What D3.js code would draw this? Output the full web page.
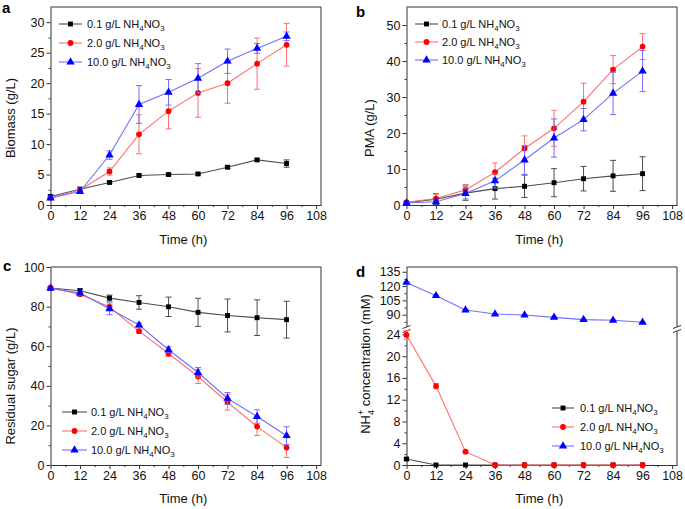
<!DOCTYPE html>
<html>
<head>
<meta charset="utf-8">
<script src="https://cdn.jsdelivr.net/npm/d3@7/dist/d3.min.js"></script>
<style>
  html, body { margin: 0; padding: 0; background: #fff; }
  svg { display: block; font-family: "Liberation Sans", Arial, sans-serif; }
</style>
</head>
<body>
<svg id="chart" width="685" height="509"></svg>
<script>
// ---------- data ----------
const hours = [0, 12, 24, 36, 48, 60, 72, 84, 96];
const xTicks = [0, 12, 24, 36, 48, 60, 72, 84, 96, 108];
const seriesLabels = ["0.1", "2.0", "10.0"];

// (a) Biomass (g/L)
const biomass01 = [1.4, 2.6, 3.7, 4.85, 5.0, 5.1, 6.2, 7.4, 6.8];
const biomass01Err = [0.3, 0.3, 0.2, 0.2, 0.2, 0.2, 0.2, 0.2, 0.6];
const biomass20 = [1.2, 2.45, 5.5, 11.6, 15.4, 18.4, 20.0, 23.2, 26.3];
const biomass20Err = [0.2, 0.3, 0.6, 3.2, 2.9, 4.0, 3.3, 4.2, 3.5];
const biomass10 = [1.15, 2.2, 8.2, 16.5, 18.5, 20.8, 23.6, 25.7, 27.7];
const biomass10Err = [0.2, 0.3, 0.7, 3.1, 2.1, 2.4, 2.0, 0.8, 0.7];
const biomassTicks = [0, 5, 10, 15, 20, 25, 30];

// (b) PMA (g/L)
const pma01 = [0.65, 1.6, 3.3, 4.55, 5.2, 6.2, 7.3, 8.1, 8.7];
const pma01Err = [0.3, 1.5, 2.0, 2.9, 3.1, 3.9, 3.4, 4.3, 4.7];
const pma20 = [0.75, 1.8, 4.2, 9.1, 15.7, 21.3, 28.7, 37.6, 44.0];
const pma20Err = [0.3, 1.2, 1.5, 2.6, 3.5, 5.0, 5.1, 3.9, 3.6];
const pma10 = [0.55, 0.9, 3.2, 6.7, 12.5, 18.6, 23.7, 31.0, 37.2];
const pma10Err = [0.2, 0.5, 1.5, 2.0, 4.0, 5.3, 3.1, 5.9, 5.7];
const pmaTicks = [0, 10, 20, 30, 40, 50];

// (c) Residual sugar (g/L)
const sugar01 = [89.4, 88.0, 84.3, 82.1, 79.9, 77.1, 75.5, 74.4, 73.4];
const sugar01Err = [0.5, 1.0, 1.5, 3.4, 4.9, 7.1, 8.3, 9.0, 9.3];
const sugar20 = [89.4, 86.3, 79.8, 67.6, 56.3, 44.7, 31.7, 19.4, 8.8];
const sugar20Err = [0.5, 1.0, 1.0, 1.0, 1.5, 3.5, 4.0, 4.5, 5.0];
const sugar10 = [89.2, 86.8, 78.9, 70.7, 58.2, 46.7, 33.6, 24.5, 14.8];
const sugar10Err = [0.5, 1.0, 3.0, 1.0, 1.5, 2.5, 3.0, 3.4, 4.5];
const sugarTicks = [0, 20, 40, 60, 80, 100];

// (d) NH4+ concentration (mM)
const nh01 = [1.1, 0, 0, 0, 0, 0, 0, 0, 0];
const nh01Err = [0.2, 0, 0, 0, 0, 0, 0, 0, 0];
const nh20 = [23.9, 14.5, 2.45, 0, 0, 0, 0, 0, 0];
const nh20Err = [0.8, 0.5, 0.2, 0, 0, 0, 0, 0, 0];
const nh10 = [123.8, 109.9, 94.9, 90.7, 89.7, 87.2, 84.8, 84.1, 82.0];
const nh10Err = [0.5, 0.5, 0.5, 0.5, 0.5, 0.5, 0.5, 0.5, 0.5];
const nhLowTicks = [0, 4, 8, 12, 16, 20, 24];
const nhHighTicks = [90, 105, 120, 135];

// ---------- styles ----------
const markColors = ["#000000", "#ff0000", "#0000ff"];
const lineColors = ["#4d4d4d", "#ff7070", "#7070ff"];
const markerShapes = ["square", "circle", "triangle"];
const axisColor = "#333";

const svg = d3.select("#chart");

function symbolPath(shape) {
  if (shape === "square") return d3.symbol(d3.symbolSquare, 24)();
  if (shape === "circle") return d3.symbol(d3.symbolCircle, 26)();
  return d3.symbol(d3.symbolTriangle, 30)();
}

function addLegendLabel(sel, conc) {
  sel.append("tspan").text(conc + " g/L NH");
  sel.append("tspan").attr("font-size", "8px").attr("dy", 3).text("4");
  sel.append("tspan").attr("dy", -3).text("NO");
  sel.append("tspan").attr("font-size", "8px").attr("dy", 3).text("3");
}

function drawPanel(cfg) {
  const g = svg.append("g");
  const x = d3.scaleLinear().domain([0, 110]).range([cfg.left, cfg.right]);
  const yFor = cfg.yFor;

  // frame top & right
  g.append("line").attr("x1", cfg.left).attr("x2", cfg.right).attr("y1", cfg.top).attr("y2", cfg.top)
    .attr("stroke", axisColor).attr("stroke-width", 1);
  g.append("line").attr("x1", cfg.right).attr("x2", cfg.right).attr("y1", cfg.top).attr("y2", cfg.bottom)
    .attr("stroke", axisColor).attr("stroke-width", 1);

  // x axis
  const xAxis = g.append("g").attr("transform", `translate(0,${cfg.bottom})`)
    .call(d3.axisBottom(x).tickValues(xTicks).tickSize(4).tickSizeOuter(0).tickPadding(2));
  g.append("g").attr("transform", `translate(0,${cfg.bottom})`)
    .call(d3.axisBottom(x).tickValues(d3.range(6, 109, 12)).tickSize(2).tickFormat("").tickSizeOuter(0))
    .select(".domain").remove();
  xAxis.selectAll("text").attr("font-size", "12.5px").attr("fill", "#111").attr("font-family", "Liberation Sans, Arial, sans-serif");

  // y axis(es)
  cfg.yAxes.forEach(ya => {
    const ag = g.append("g").attr("transform", `translate(${cfg.left},0)`)
      .call(d3.axisLeft(ya.scale).tickValues(ya.ticks).tickSize(4).tickSizeOuter(0).tickPadding(2));
    ag.selectAll("text").attr("font-size", "12.5px").attr("fill", "#111").attr("font-family", "Liberation Sans, Arial, sans-serif");
    g.append("g").attr("transform", `translate(${cfg.left},0)`)
      .call(d3.axisLeft(ya.scale).tickValues(ya.minor).tickSize(2).tickFormat("").tickSizeOuter(0))
      .select(".domain").remove();
  });
  g.selectAll(".domain, .tick line").attr("stroke", axisColor);

  // break marks
  if (cfg.breakY !== undefined) {
    [cfg.left, cfg.right].forEach(bx => {
      g.append("rect").attr("x", bx - 4).attr("y", cfg.breakY - 2).attr("width", 8).attr("height", 4).attr("fill", "#fff");
      [-2, 2].forEach(o => {
        g.append("line").attr("x1", bx - 4).attr("x2", bx + 4)
          .attr("y1", cfg.breakY + o + 1.5).attr("y2", cfg.breakY + o - 1.5)
          .attr("stroke", axisColor).attr("stroke-width", 1);
      });
    });
  }

  // series
  cfg.series.forEach((s, i) => {
    const sg = g.append("g");
    const pts = hours.map((h, k) => ({ h, v: s.values[k], e: s.err[k] }));
    // error bars
    pts.forEach(p => {
      if (!p.e) return;
      const y1 = yFor(p.v - p.e), y2 = yFor(p.v + p.e), px = x(p.h);
      sg.append("line").attr("x1", px).attr("x2", px).attr("y1", y1).attr("y2", y2)
        .attr("stroke", lineColors[i]).attr("stroke-width", 1);
      [y1, y2].forEach(yy => sg.append("line").attr("x1", px - 3).attr("x2", px + 3).attr("y1", yy).attr("y2", yy)
        .attr("stroke", lineColors[i]).attr("stroke-width", 1));
    });
    sg.append("path").datum(pts)
      .attr("d", d3.line().x(p => x(p.h)).y(p => yFor(p.v)))
      .attr("fill", "none").attr("stroke", lineColors[i]).attr("stroke-width", 1.1);
    sg.selectAll("path.m").data(pts).enter().append("path").attr("class", "m")
      .attr("d", symbolPath(markerShapes[i]))
      .attr("transform", p => `translate(${x(p.h)},${yFor(p.v)})`)
      .attr("fill", markColors[i]);
  });

  // legend
  cfg.legend.rows.forEach((ry, i) => {
    const L = cfg.legend;
    g.append("line").attr("x1", L.x1).attr("x2", L.x2).attr("y1", ry).attr("y2", ry)
      .attr("stroke", lineColors[i]).attr("stroke-width", 1.1);
    g.append("path").attr("d", symbolPath(markerShapes[i]))
      .attr("transform", `translate(${(L.x1 + L.x2) / 2},${ry})`).attr("fill", markColors[i]);
    const t = g.append("text").attr("x", L.tx).attr("y", ry + 4).attr("font-size", "11px").attr("fill", "#111");
    addLegendLabel(t, seriesLabels[i]);
  });

  // axis titles
  g.append("text").attr("x", (x(0) + x(108)) / 2).attr("y", cfg.xTitleY)
    .attr("text-anchor", "middle").attr("font-size", "13px").attr("fill", "#111").text("Time (h)");
  const yt = g.append("text")
    .attr("transform", `translate(${cfg.yTitleX},${cfg.yTitleY}) rotate(-90)`)
    .attr("text-anchor", "middle").attr("font-size", "13px").attr("fill", "#111");
  cfg.yTitle(yt);

  // panel letter
  g.append("text").attr("x", cfg.letterX).attr("y", cfg.letterY).attr("font-size", "15px")
    .attr("font-weight", "bold").attr("fill", "#000").text(cfg.letter);
}

// ---------- panel a ----------
(function () {
  const y = d3.scaleLinear().domain([0, 32.5]).range([205, 7]);
  drawPanel({
    left: 50.5, right: 321, top: 7, bottom: 205,
    yFor: y,
    yAxes: [{ scale: y, ticks: biomassTicks, minor: d3.range(2.5, 32.5, 5) }],
    series: [
      { values: biomass01, err: biomass01Err },
      { values: biomass20, err: biomass20Err },
      { values: biomass10, err: biomass10Err }
    ],
    legend: { x1: 59, x2: 82, tx: 87, rows: [24, 43, 62] },
    xTitleY: 244, yTitleX: 15, yTitleY: 118,
    yTitle: t => t.text("Biomass (g/L)"),
    letter: "a", letterX: 2, letterY: 13
  });
})();

// ---------- panel b ----------
(function () {
  const y = d3.scaleLinear().domain([0, 55]).range([205, 7]);
  drawPanel({
    left: 406.5, right: 677, top: 7, bottom: 205,
    yFor: y,
    yAxes: [{ scale: y, ticks: pmaTicks, minor: d3.range(5, 55, 10) }],
    series: [
      { values: pma01, err: pma01Err },
      { values: pma20, err: pma20Err },
      { values: pma10, err: pma10Err }
    ],
    legend: { x1: 415, x2: 438, tx: 442, rows: [24, 42, 60] },
    xTitleY: 244, yTitleX: 374, yTitleY: 128,
    yTitle: t => t.text("PMA (g/L)"),
    letter: "b", letterX: 356, letterY: 17
  });
})();

// ---------- panel c ----------
(function () {
  const y = d3.scaleLinear().domain([0, 100]).range([465, 267]);
  drawPanel({
    left: 50.5, right: 321, top: 267, bottom: 465,
    yFor: y,
    yAxes: [{ scale: y, ticks: sugarTicks, minor: d3.range(10, 100, 20) }],
    series: [
      { values: sugar01, err: sugar01Err },
      { values: sugar20, err: sugar20Err },
      { values: sugar10, err: sugar10Err }
    ],
    legend: { x1: 62, x2: 87, tx: 91, rows: [412, 431, 450] },
    xTitleY: 503, yTitleX: 15, yTitleY: 386,
    yTitle: t => t.text("Residual sugar (g/L)"),
    letter: "c", letterX: 3, letterY: 271
  });
})();

// ---------- panel d ----------
(function () {
  const yLow = d3.scaleLinear().domain([0, 25]).range([465, 329]);
  const yHigh = d3.scaleLinear().domain([75, 140]).range([329, 267]);
  const yFor = v => (v >= 60 ? yHigh(v) : yLow(v));
  drawPanel({
    left: 406.5, right: 677, top: 267, bottom: 465,
    yFor: yFor,
    yAxes: [
      { scale: yLow, ticks: nhLowTicks, minor: d3.range(2, 25, 4) },
      { scale: yHigh, ticks: nhHighTicks, minor: [82.5, 97.5, 112.5, 127.5] }
    ],
    breakY: 329,
    series: [
      { values: nh01, err: nh01Err },
      { values: nh20, err: nh20Err },
      { values: nh10, err: nh10Err }
    ],
    legend: { x1: 552, x2: 574, tx: 580, rows: [408, 427, 446] },
    xTitleY: 503, yTitleX: 370, yTitleY: 364,
    yTitle: t => {
      t.append("tspan").text("NH");
      t.append("tspan").attr("font-size", "9px").attr("dy", 4).text("4");
      t.append("tspan").attr("font-size", "9px").attr("dx", -5).attr("dy", -10).text("+");
      t.append("tspan").attr("dy", 6).text(" concentration (mM)");
    },
    letter: "d", letterX: 356, letterY: 277
  });
})();
</script>
</body>
</html>
